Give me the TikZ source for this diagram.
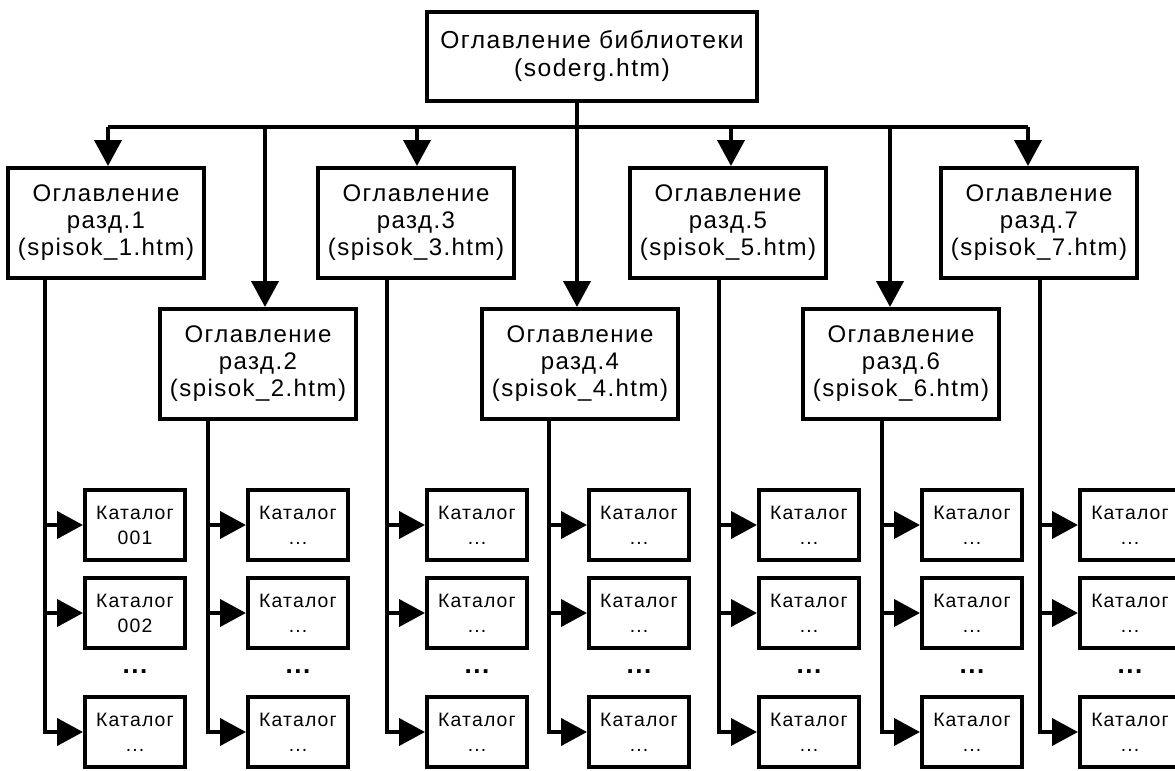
\documentclass[tikz,border=0pt]{standalone}
\usepackage{fontspec}
\setmainfont{Liberation Sans}
\newfontfamily\boxfont[LetterSpace=6]{Liberation Sans}
\usetikzlibrary{arrows.meta}
\newcommand{\catdots}{...}

\begin{document}
\begin{tikzpicture}[x=0.5pt, y=-0.5pt,
  link/.style={line width=2pt},
  arr/.style={link, -{Triangle[length=13pt,width=13.5pt]}},
  libbox/.style={draw, line width=2pt, minimum width=165pt, minimum height=44.5pt,
    align=center, font=\boxfont\fontsize{12.3}{14}\selectfont},
  secbox/.style={draw, line width=2pt, minimum width=98pt, minimum height=55pt,
    align=center, inner sep=1pt, font=\boxfont\fontsize{12}{13.5}\selectfont},
  catbox/.style={draw, line width=2pt, minimum width=50pt, minimum height=35pt,
    align=center, inner sep=1pt, font=\boxfont\fontsize{9.7}{12.5}\selectfont},
  moredots/.style={font=\boxfont\bfseries\fontsize{13}{13}\selectfont}]
  \useasboundingbox (0,0) rectangle (1175,771);

  % Library contents
  \node[libbox] (lib) at (592,56) {Оглавление библиотеки\\(soderg.htm)};

  % Section contents
  \foreach \i/\x/\y in {1/106/223, 2/258/364, 3/416/223, 4/580/364,
                        5/728/223, 6/901/364, 7/1039/223}
    \node[secbox] (s\i) at (\x,\y) {Оглавление\\разд.\i\\(spisok\_\i.htm)};

  % Points on the bar
  \foreach \i/\x in {1/108, 2/265, 3/417, 4/577, 5/731, 6/890, 7/1028}
    \coordinate (b\i) at (\x,127);

  % Bar and arrows down to the sections
  \draw[link] (lib.south -| b4) -- (b4);
  \draw[link] (b1) -- (b7);
  \foreach \i in {1,...,7}
    \draw[arr] (b\i) -- (b\i |- s\i.north);

  % Catalogs of each section
  \foreach \i/\cx/\ta/\tb in {1/135/001/002, 2/298/\catdots/\catdots,
      3/477/\catdots/\catdots, 4/639/\catdots/\catdots, 5/809/\catdots/\catdots,
      6/972/\catdots/\catdots, 7/1130/\catdots/\catdots} {
    \node[catbox] (c\i a) at (\cx,525) {Каталог\\\ta};
    \node[catbox] (c\i b) at (\cx,613) {Каталог\\\tb};
    \node[moredots] (d\i) at (\cx,672) {...};
    \node[catbox] (c\i c) at (\cx,732) {Каталог\\\catdots};

    \path (c\i a.west) ++(-38,0) coordinate (v\i);
    \draw[arr] (s\i.south -| v\i) |- (c\i c.west);
    \draw[arr] (v\i) -- (c\i a.west);
    \draw[arr] (v\i |- c\i b.west) -- (c\i b.west);
  }
\end{tikzpicture}
\end{document}
